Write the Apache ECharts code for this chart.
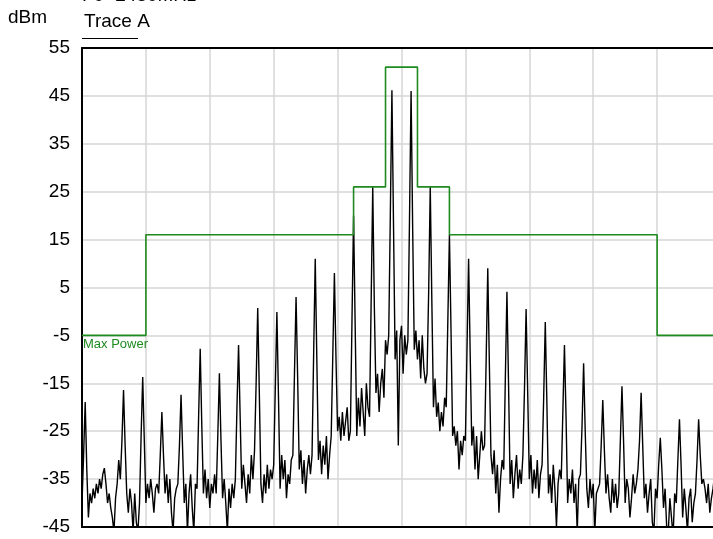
<!DOCTYPE html>
<html>
<head>
<meta charset="utf-8">
<script src="https://cdn.jsdelivr.net/npm/echarts@6/dist/echarts.min.js"></script>
<style>
  html, body { margin: 0; padding: 0; background: #fff; }
  #chart { width: 713px; height: 539px; }
</style>
</head>
<body>
<div id="chart"></div>
<script>
const FONT = '"Liberation Sans", Arial, sans-serif';

// Frequency axis: ten divisions across the span
const freqMin = 0;
const freqMax = 100;
const freqDiv = 10;

// Level axis (dBm)
const levelMin = -45;
const levelMax = 55;
const levelDiv = 10;

// Trace A, one sample every 0.25 units; each row spans 3 units (peak at +0.5)
const traceStep = 0.25;
const traceA = [
  -40, -30, -18.9, -33, -43, -38, -40, -37, -39, -36, -38, -35,
  -37, -34, -32.7, -36, -40, -38, -41, -43, -46, -39, -36, -31,
  -35, -27, -16.4, -28, -38, -42, -37, -40, -46, -38, -44, -46,
  -40, -26, -13.7, -27, -40, -36, -39, -35, -38, -42, -37, -36,
  -38, -30, -21.0, -30, -38, -34, -40, -35, -42, -46, -39, -37,
  -36, -28, -17.4, -29, -40, -36, -46, -38, -34, -41, -46, -36,
  -37, -22, -7.8, -24, -38, -33, -39, -35, -41, -36, -38, -34,
  -38, -26, -12.9, -27, -39, -35, -40, -46, -37, -41, -36, -39,
  -35, -20, -7.0, -22, -37, -32, -36, -40, -34, -38, -30, -35,
  -29, -15, 0.7, -17, -36, -40, -34, -38, -32, -37, -33, -35,
  -32, -16, -0.1, -18, -37, -30, -35, -31, -39, -34, -36, -31,
  -30, -13, 3.0, -14, -33, -29, -36, -31, -38, -33, -30, -34,
  -30, -9, 11, -10, -31, -27, -34, -28, -32, -26, -35, -30,
  -26, -9, 8, -10, -25, -22, -27, -21, -26, -23, -20, -27,
  -25, -2, 20, -3, -26, -18, -24, -16, -21, -26, -15, -20,
  -22, 2, 26, 1, -17, -13, -21, -15, -12, -18, -6, -9,
  -5, 20, 46.2, 18, -10, -4, -28, -6, -3, -13, -5, -9,
  -6, 19, 46, 17, -8, -4, -10, -6, -14, -5, -12, -15,
  -13, 4, 26, 2, -20, -14, -22, -19, -25, -21, -24, -18,
  -20, -2, 16, -4, -26, -24, -28, -25, -33, -27, -30, -26,
  -27, -8, 11, -9, -28, -24, -33, -26, -35, -30, -25, -29,
  -28, -10, 9, -11, -30, -34, -29, -38, -32, -42, -35, -31,
  -33, -14, 4.1, -15, -36, -31, -39, -34, -30, -37, -33, -36,
  -30, -16, 0.5, -17, -35, -30, -38, -33, -37, -31, -39, -34,
  -32, -18, -2.2, -19, -38, -34, -40, -32, -37, -45, -36, -33,
  -35, -21, -7.0, -22, -40, -35, -38, -33, -40, -36, -46, -35,
  -34, -24, -10.8, -25, -37, -41, -35, -39, -36, -46, -38, -37,
  -36, -28, -18.5, -29, -38, -34, -39, -42, -35, -40, -36, -41,
  -38, -27, -15.6, -27, -40, -35, -37, -43, -39, -34, -38, -36,
  -33, -27, -17.0, -28, -39, -36, -42, -38, -35, -44, -46, -37,
  -39, -32, -26.4, -33, -41, -37, -45, -46, -39, -43, -47, -38,
  -40, -31, -22.5, -32, -43, -37, -41, -46, -39, -37, -44, -40,
  -38, -31, -22.5, -30, -36, -35, -37, -40, -36, -42, -39, -37,
  -34, -31, -28, -35
];

// Max Power limit: corner frequencies and levels
const maskFreq  = [0, 10, 10, 42.5, 42.5, 47.5, 47.5, 52.5, 52.5, 57.5, 57.5, 90, 90, 100];
const maskLevel = [-5, -5, 16, 16, 26, 26, 51, 51, 26, 26, 16, 16, -5, -5];

const traceData = traceA.map((v, i) => [i * traceStep, v]);
const maskData = maskFreq.map((f, i) => [f, maskLevel[i]]);

const frameLine = { show: true, onZero: false, lineStyle: { color: '#000', width: 2 } };
const gridLine = { show: true, lineStyle: { color: '#d6d6d6', width: 1.5 } };

const chart = echarts.init(document.getElementById('chart'), null, { renderer: 'canvas' });

chart.setOption({
  animation: false,
  backgroundColor: '#fff',
  grid: {
    left: 82, top: 48, width: 639, height: 479,
    outerBoundsMode: 'none', containLabel: false, show: false
  },
  xAxis: [
    {
      type: 'value', position: 'bottom', min: freqMin, max: freqMax, interval: freqDiv,
      axisLine: frameLine, axisTick: { show: false }, axisLabel: { show: false },
      splitLine: gridLine
    },
    {
      type: 'value', position: 'top', min: freqMin, max: freqMax, interval: freqDiv,
      axisLine: frameLine, axisTick: { show: false }, axisLabel: { show: false },
      splitLine: { show: false }
    }
  ],
  yAxis: {
    type: 'value', min: levelMin, max: levelMax, interval: levelDiv,
    axisLine: frameLine, axisTick: { show: false },
    axisLabel: { color: '#000', fontFamily: FONT, fontSize: 19, margin: 12 },
    splitLine: gridLine
  },
  series: [
    {
      name: 'Trace A', type: 'line', data: traceData, symbol: 'none',
      lineStyle: { color: '#000', width: 1.4 }, clip: true, z: 3
    },
    {
      name: 'Max Power', type: 'line', data: maskData, symbol: 'none',
      lineStyle: { color: '#1f8a1f', width: 1.6 }, clip: true, z: 4
    }
  ]
});

// Annotations placed from axis coordinates
const maskStart = chart.convertToPixel({ gridIndex: 0 }, [maskFreq[0], maskLevel[0]]);
const plotCorner = chart.convertToPixel({ gridIndex: 0 }, [freqMin, levelMax]);

chart.setOption({
  graphic: [
    { type: 'text', x: 8, y: 18,
      style: { text: 'dBm', fill: '#000', font: '19px ' + FONT, verticalAlign: 'middle' } },
    { type: 'text', x: plotCorner[0] + 2, y: 22,
      style: { text: 'Trace A', fill: '#000', font: '19px ' + FONT, verticalAlign: 'middle' } },
    { type: 'line', shape: { x1: plotCorner[0], y1: 38.5, x2: plotCorner[0] + 56, y2: 38.5 },
      style: { stroke: '#000', lineWidth: 1 } },
    { type: 'text', x: plotCorner[0], y: 5.5,
      style: { text: 'F0=2450MHz', fill: '#000', font: '19px ' + FONT, verticalAlign: 'bottom' } },
    { type: 'text', x: maskStart[0] + 1, y: maskStart[1] + 3,
      style: { text: 'Max Power', fill: '#1f8a1f', font: '13px ' + FONT } }
  ]
});
</script>
</body>
</html>
